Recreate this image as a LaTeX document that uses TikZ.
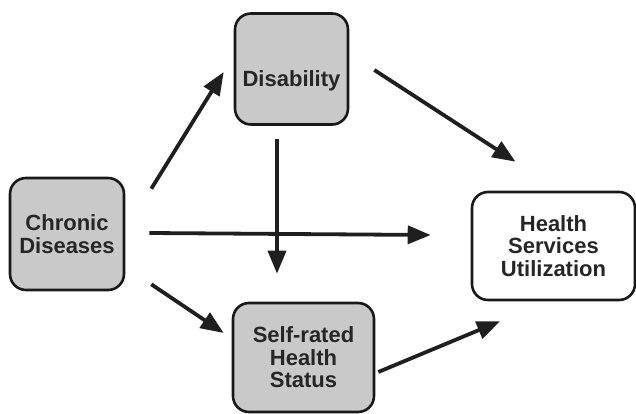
\documentclass[tikz,border=0pt]{standalone}
\usepackage{fontspec}
\setmainfont{Liberation Sans}
\usetikzlibrary{arrows.meta,calc}
\begin{document}
\begin{tikzpicture}[x=1pt,y=-1pt,
  box/.style={draw=black!90,line width=2.6pt,rounded corners=16pt,align=center,
    font=\fontsize{22}{22.5}\selectfont\bfseries,text=black!85,inner sep=0pt},
  gbox/.style={box,fill=black!21},
  arr/.style={line width=3.8pt,draw=black!88,-{Triangle[length=23pt,width=18pt]}}]
\useasboundingbox (0,0) rectangle (636,414);
\node[gbox,minimum width=114pt,minimum height=112pt] (c) at (67,234) {Chronic\\Diseases};
\node[gbox,minimum width=113pt,minimum height=111pt] (d) at (291.5,69) {\\[-6pt]\\Disability};
\node[gbox,minimum width=141pt,minimum height=109pt] (s) at (303.5,357.5) {Self-rated\\Health\\Status};
\node[box,minimum width=163pt,minimum height=108pt] (h) at (553.5,246) {Health\\Services\\Utilization};
\draw[arr] ([shift={(26,12)}]c.north east) -- ([shift={(-10,3)}]d.west);
\draw[arr] ([shift={(25,1)}]d.east) -- ([shift={(-38,-29)}]h.north);
\draw[arr] ([shift={(-14.5,13)}]d.south) -- ([shift={(-26.5,-28)}]s.north);
\draw[arr] ([shift={(24,-1)}]c.east) -- ([shift={(-40,-11)}]h.west);
\draw[arr] ([shift={(26,-7)}]c.south east) -- ([shift={(-8,-24.5)}]s.west);
\draw[arr] ([shift={(3,14.5)}]s.east) -- ([shift={(-53.5,20)}]h.south);
\end{tikzpicture}
\end{document}
